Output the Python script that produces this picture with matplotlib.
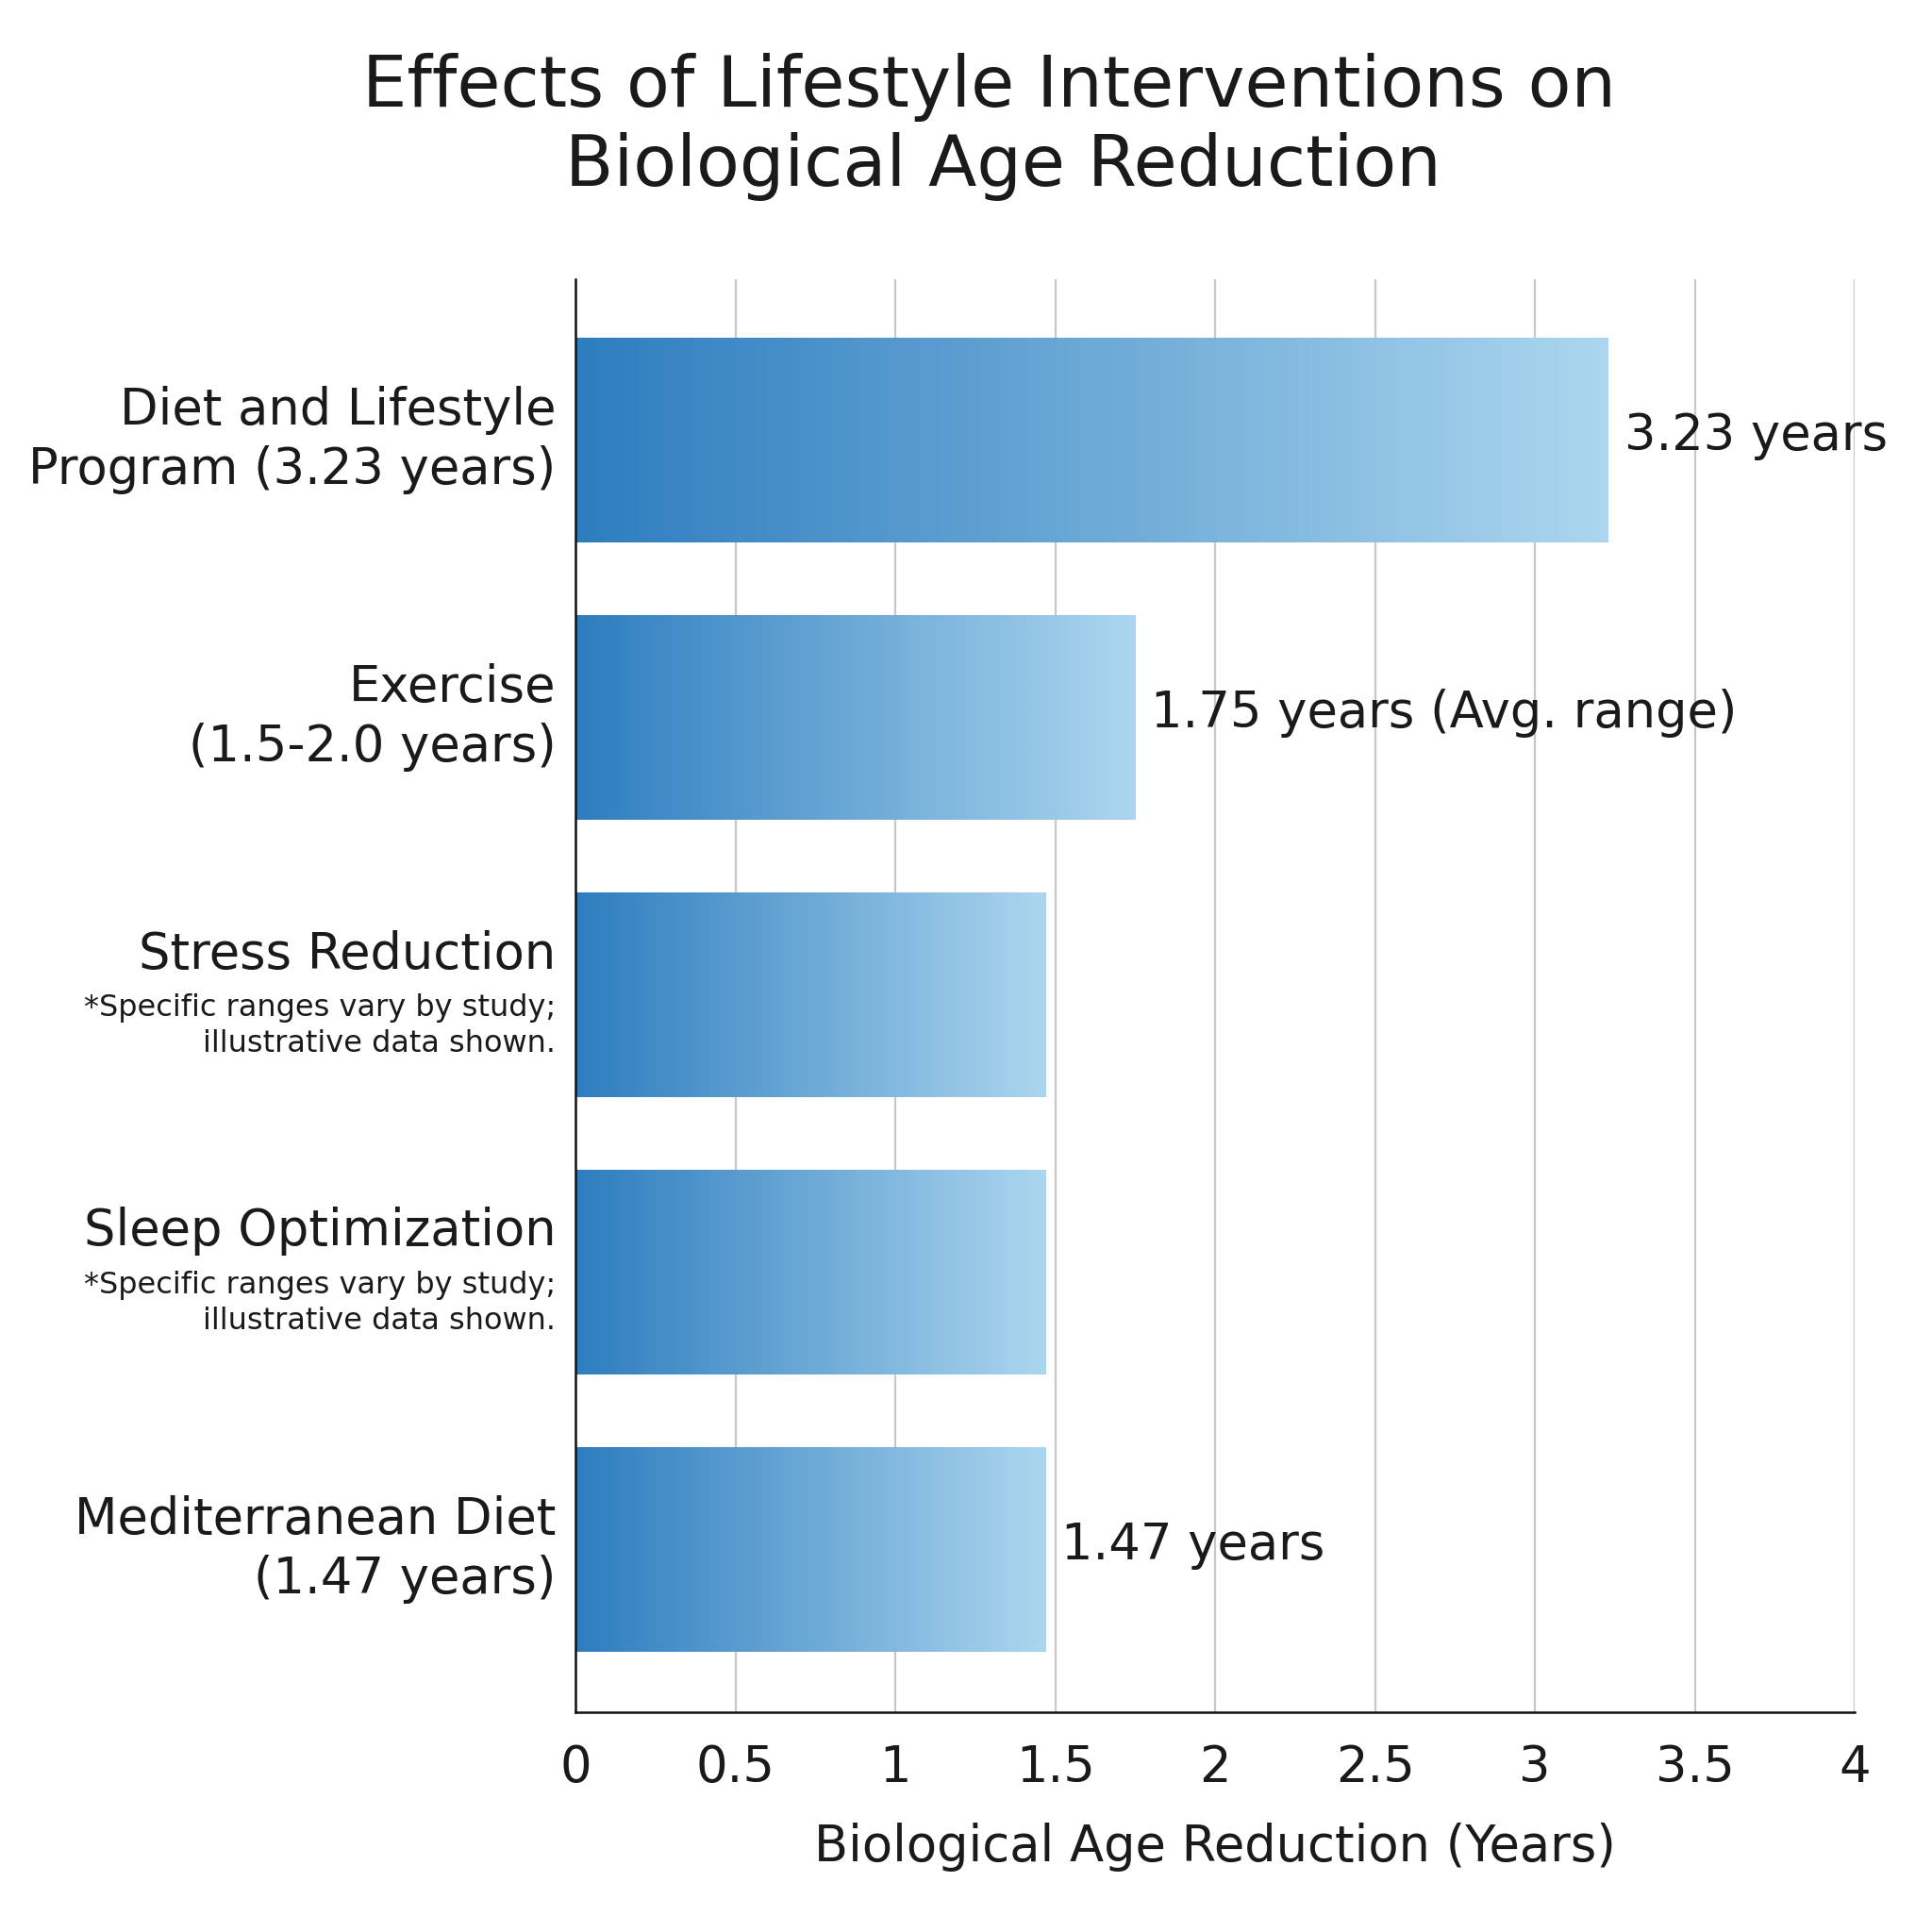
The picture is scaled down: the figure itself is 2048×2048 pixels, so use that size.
import numpy as np
import matplotlib
matplotlib.use("Agg")
import matplotlib.pyplot as plt
from matplotlib.colors import LinearSegmentedColormap

# ---- data ----
categories = ["Diet and Lifestyle\nProgram (3.23 years)",
              "Exercise\n(1.5-2.0 years)",
              "Stress Reduction",
              "Sleep Optimization",
              "Mediterranean Diet\n(1.47 years)"]
notes = [None, None,
         "*Specific ranges vary by study;\nillustrative data shown.",
         "*Specific ranges vary by study;\nillustrative data shown.",
         None]
values = [3.23, 1.75, 1.47, 1.47, 1.47]
value_labels = ["3.23 years", "1.75 years (Avg. range)", None, None, "1.47 years"]
xticks = [0, 0.5, 1, 1.5, 2, 2.5, 3, 3.5, 4]
xtick_labels = ["0", "0.5", "1", "1.5", "2", "2.5", "3", "3.5", "4"]
title_lines = ["Effects of Lifestyle Interventions on", "Biological Age Reduction"]
xlabel = "Biological Age Reduction (Years)"

plt.rcParams['font.family'] = ['DejaVu Sans']
TXT = "#1a1a1a"

fig = plt.figure(figsize=(20.48, 20.48), dpi=100)
fig.patch.set_facecolor("white")
ax = fig.add_axes([0.298, 0.114, 0.662, 0.7415])

cmap = LinearSegmentedColormap.from_list("g", ["#2e7dbf", "#6ca9d6", "#acd6ef"])
ypos = np.arange(len(categories))
bh = 0.74
bars = ax.barh(ypos, values, height=bh, color="none", edgecolor="none", zorder=2)
grad = np.linspace(0, 1, 256).reshape(1, -1)
for b in bars:
    x0, y0 = b.get_x(), b.get_y()
    w, h = b.get_width(), b.get_height()
    im = ax.imshow(grad, cmap=cmap, aspect="auto", extent=[x0, x0 + w, y0 + h, y0],
                   zorder=2, interpolation="bicubic")
    im.set_clip_path(b)

ax.set_xlim(0, 4)
ax.set_ylim(4.585, -0.58)

ax.set_xticks(xticks)
ax.set_xticklabels(xtick_labels, fontsize=38, color=TXT)
ax.tick_params(axis="x", length=0, pad=24)
ax.set_yticks([])
ax.grid(axis="x", color="#c8c8c8", linewidth=1.6, zorder=0)
ax.set_axisbelow(True)
for s in ["top", "right"]:
    ax.spines[s].set_visible(False)
for s in ["left", "bottom"]:
    ax.spines[s].set_color("#111111")
    ax.spines[s].set_linewidth(1.8)

ax.set_xlabel(xlabel, fontsize=38, color=TXT, labelpad=23)

# category labels
for i, (cat, note) in enumerate(zip(categories, notes)):
    if note is None:
        ax.annotate(cat, xy=(0, ypos[i]), xytext=(-15, 0), textcoords="offset points",
                    ha="right", va="center", fontsize=38, color=TXT,
                    multialignment="right", linespacing=1.25)
    else:
        ax.annotate(cat, xy=(0, ypos[i]), xytext=(-15, 31), textcoords="offset points",
                    ha="right", va="center", fontsize=38, color=TXT)
        ax.annotate(note, xy=(0, ypos[i]), xytext=(-15, -24), textcoords="offset points",
                    ha="right", va="center", fontsize=23, color=TXT,
                    multialignment="right", linespacing=1.3)

# value labels
for i, (v, lab) in enumerate(zip(values, value_labels)):
    if lab:
        ax.annotate(lab, xy=(v, ypos[i]), xytext=(12, 3), textcoords="offset points",
                    ha="left", va="center", fontsize=38, color=TXT)

fig.text(0.512, 0.955, title_lines[0], ha="center", va="center", fontsize=54, color=TXT)
fig.text(0.519, 0.914, title_lines[1], ha="center", va="center", fontsize=54, color=TXT)

fig.savefig("out.png", dpi=100, facecolor="white")
